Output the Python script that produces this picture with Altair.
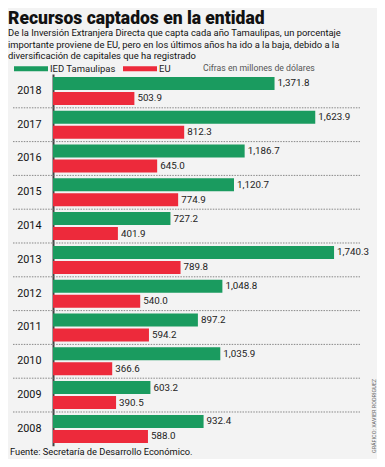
import altair as alt
import pandas as pd

years = ["2018", "2017", "2016", "2015", "2014", "2013", "2012", "2011", "2010", "2009", "2008"]
ied = [1371.8, 1623.9, 1186.7, 1120.7, 727.2, 1740.3, 1048.8, 897.2, 1035.9, 603.2, 932.4]
eu = [503.9, 812.3, 645.0, 774.9, 401.9, 789.8, 540.0, 594.2, 366.6, 390.5, 588.0]
series = ["IED Tamaulipas", "EU"]
colors = ["#1a9b5f", "#ed2a3b"]

title_text = "Recursos captados en la entidad"
subtitle_lines = [
    "De la Inversión Extranjera Directa que capta cada año Tamaulipas, un porcentaje",
    "importante proviene de EU, pero en los últimos años ha ido a la baja, debido a la",
    "diversificación de capitales que ha registrado",
]
note_text = "Cifras en millones de dólares"
source_text = "Fuente: Secretaría de Desarrollo Económico."
credit_text = "GRÁFICO: XAVIER RODRÍGUEZ"

FONT = "Roboto, Liberation Sans, sans-serif"

rows = []
for y, a, b in zip(years, ied, eu):
    rows.append({"year": y, "serie": series[0], "value": a})
    rows.append({"year": y, "serie": series[1], "value": b})
df = pd.DataFrame(rows)
sep = pd.DataFrame({"year": years[:-1]})

STEP = 33.8
H = STEP * len(years)
W = 320
XMAX = W / 0.1615

y_enc = alt.Y("year:O", sort=years, scale=alt.Scale(paddingInner=0, paddingOuter=0),
              axis=alt.Axis(title=None, ticks=False, domain=True, domainColor="#444",
                            domainWidth=2, labelFontSize=10.8, labelColor="#111",
                            labelFont=FONT, labelPadding=12, labelAlign="right"))
off_enc = alt.YOffset("serie:N", sort=series,
                      scale=alt.Scale(paddingInner=2 / 15, paddingOuter=0.1933))
x_enc = alt.X("value:Q", scale=alt.Scale(domain=[0, XMAX], nice=False), axis=None)

base = alt.Chart(df)

rules = alt.Chart(sep).mark_rule(color="#888", strokeWidth=1, strokeDash=[1.5, 1.2]).encode(
    y=alt.Y("year:O", sort=years, bandPosition=1),
    x=alt.value(-40), x2=alt.value(307),
)

bars = base.mark_bar().encode(
    y=y_enc, yOffset=off_enc, x=x_enc,
    color=alt.Color("serie:N", sort=series,
                    scale=alt.Scale(domain=series, range=colors),
                    legend=alt.Legend(title=None, orient="none", direction="horizontal",
                                      legendX=-39, legendY=-22.5,
                                      symbolType="M-1,-0.14H1V0.14H-1Z", symbolSize=1156,
                                      symbolStrokeWidth=0, labelOffset=2, columnPadding=7,
                                      labelFontSize=9.5, labelFont=FONT, labelColor="#222")),
)

labels = base.mark_text(align="left", baseline="middle", dx=3, fontSize=9.8,
                        font=FONT, color="#222").encode(
    y=alt.Y("year:O", sort=years), yOffset=off_enc, x=x_enc,
    text=alt.Text("value:Q", format=",.1f"),
)

one = pd.DataFrame({"k": [0]})

title = alt.Chart(one).mark_text(align="left", baseline="alphabetic", fontSize=17.5,
                                 fontWeight=900, font=FONT, color="#111").encode(
    x=alt.value(-45), y=alt.value(-49.5), text=alt.value(title_text))

subtitle = alt.Chart(one).mark_text(align="left", baseline="alphabetic", fontSize=9.4,
                                    font=FONT, color="#111", lineHeight=11.5,
                                    lineBreak="\n").encode(
    x=alt.value(-45), y=alt.value(-37.5), text=alt.value("\n".join(subtitle_lines)))

note = alt.Chart(one).mark_text(align="left", baseline="alphabetic", fontSize=8.7,
                                font=FONT, color="#555").encode(
    x=alt.value(150), y=alt.value(-2.5), text=alt.value(note_text))

source = alt.Chart(one).mark_text(align="left", baseline="alphabetic", fontSize=9.3,
                                  font=FONT, color="#111").encode(
    x=alt.value(-43), y=alt.value(381), text=alt.value(source_text))

credit = alt.Chart(one).mark_text(align="center", baseline="middle", fontSize=5.5,
                                  font=FONT, color="#666", angle=270).encode(
    x=alt.value(321), y=alt.value(342), text=alt.value(credit_text))

chart = alt.layer(rules, bars, labels, title, subtitle, note, source, credit).properties(
    width=W, height=H,
    autosize=alt.AutoSizeParams(type="none"),
    padding={"left": 45, "top": 66, "right": 4, "bottom": 13},
    background="#f3f3f3",
).configure_view(stroke=None)

chart.save("out.html", embed_options={"renderer": "svg", "actions": False})
